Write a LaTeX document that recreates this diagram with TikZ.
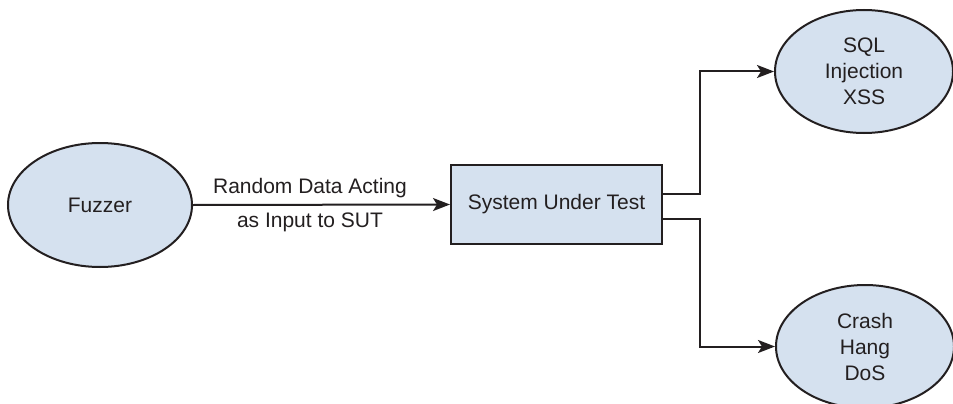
\documentclass[tikz,border=0pt]{standalone}
\usepackage{fontspec}
\setmainfont{Liberation Sans}
\usetikzlibrary{shapes.geometric,arrows.meta}
\definecolor{fillblue}{HTML}{D5E1EF}
\definecolor{ink}{HTML}{231F20}
\begin{document}
\begin{tikzpicture}[x=1pt,y=-1pt,
  every node/.style={font=\fontsize{21pt}{26pt}\selectfont, text=ink},
  oval/.style={ellipse, draw=ink, line width=2pt, fill=fillblue, inner sep=0pt, align=center},
  boxnode/.style={rectangle, draw=ink, line width=2pt, fill=fillblue, inner sep=0pt},
  conn/.style={draw=ink, line width=2pt, -{Stealth[length=17pt,width=13pt,inset=4pt]}},
  lbl/.style={inner sep=0pt}
]
\useasboundingbox (0,0) rectangle (953,404);
\node[oval, minimum width=184pt, minimum height=124pt] (fuzzer) at (100,205) {Fuzzer};
\node[boxnode, minimum width=211pt, minimum height=79pt] (sut) at (556.5,204.5) {System Under Test};
\node[oval, minimum width=178pt, minimum height=123pt] (sql) at (864,71.5) {SQL\\Injection\\XSS};
\node[oval, minimum width=178pt, minimum height=123pt] (crash) at (865,346.5) {Crash\\Hang\\DoS};
\draw[conn] (fuzzer.east) -- (sut.west);
\node[lbl] (l1) at (310,188) {Random Data Acting};
\node[lbl] (l2) at (310,222) {as Input to SUT};
\coordinate (bu) at (700,194);
\coordinate (bd) at (700,219);
\draw[conn] (sut.east |- bu) -- (bu) |- (sql.west);
\draw[conn] (sut.east |- bd) -- (bd) |- (crash.west);
\end{tikzpicture}
\end{document}
